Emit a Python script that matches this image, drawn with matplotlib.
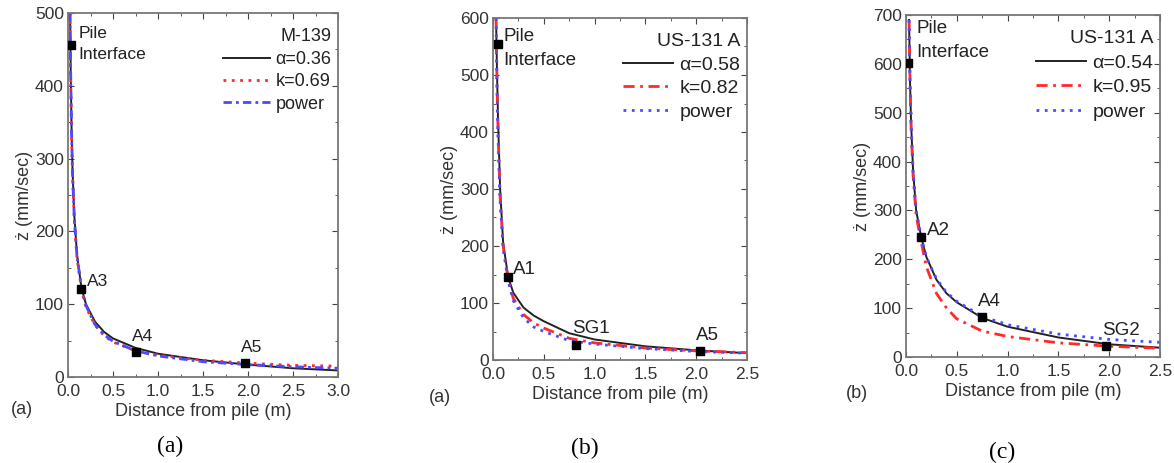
import matplotlib.pyplot as plt
from matplotlib.lines import Line2D
from matplotlib.ticker import MultipleLocator

plt.rcParams["font.family"] = ["Liberation Sans", "DejaVu Sans"]

# panel (a): M-139
dist_a = [0.023, 0.03, 0.04, 0.05, 0.07, 0.10, 0.15, 0.20, 0.30, 0.40, 0.50, 0.75, 1.00, 1.50, 2.00, 2.50, 3.00]
alpha_a = [500, 420, 340, 285, 222, 168, 122, 100, 76, 62, 53, 40, 32, 23, 17, 12, 9]
k_a = [500, 410, 330, 278, 215, 163, 120, 96, 71, 57, 48, 36, 30, 23, 19, 16, 15]
power_a = [500, 415, 333, 281, 218, 166, 122, 98, 72, 58, 49, 36, 29, 21, 17, 14, 12]
pts_a_x = [0.033, 0.144, 0.756, 1.97]
pts_a_y = [456, 121, 34, 19]
pts_a_lbl = ["", "A3", "A4", "A5"]

# panel (b): US-131 A
dist_b = [0.03, 0.04, 0.05, 0.07, 0.10, 0.15, 0.20, 0.30, 0.40, 0.50, 0.75, 1.00, 1.50, 2.00, 2.50]
alpha_b = [600, 500, 420, 300, 205, 145, 118, 92, 78, 68, 47, 36, 24, 17, 12]
k_b = [600, 480, 400, 285, 200, 140, 108, 80, 65, 56, 38, 30, 21, 16, 13]
power_b = [600, 470, 390, 280, 195, 138, 104, 74, 58, 50, 34, 28, 20, 15, 12]
pts_b_x = [0.046, 0.145, 0.82, 2.04]
pts_b_y = [554, 146, 27, 15]
pts_b_lbl = ["", "A1", "SG1", "A5"]

# panel (c): US-131 A
dist_c = [0.03, 0.04, 0.05, 0.07, 0.10, 0.15, 0.20, 0.30, 0.40, 0.50, 0.75, 1.00, 1.50, 2.00, 2.50]
alpha_c = [690, 560, 480, 380, 300, 245, 205, 158, 130, 112, 80, 62, 40, 26, 19]
k_c = [690, 560, 470, 370, 290, 235, 185, 130, 100, 78, 53, 42, 29, 22, 18]
power_c = [690, 560, 480, 380, 300, 245, 205, 160, 132, 114, 83, 66, 47, 36, 30]
pts_c_x = [0.023, 0.148, 0.745, 1.97]
pts_c_y = [601, 245, 82, 23]
pts_c_lbl = ["", "A2", "A4", "SG2"]

W, H = 1174, 463
RED = "#ff2a2a"
BLUE = "#4a4aff"


def px_rect(left, top, right, bottom):
    return [left / W, 1 - bottom / H, (right - left) / W, (bottom - top) / H]


def style_axes(ax, xmax, ymax, ystep):
    ax.set_xlim(0, xmax)
    ax.set_ylim(0, ymax)
    ax.xaxis.set_major_locator(MultipleLocator(0.5))
    ax.xaxis.set_minor_locator(MultipleLocator(0.25))
    ax.yaxis.set_major_locator(MultipleLocator(ystep))
    ax.yaxis.set_minor_locator(MultipleLocator(ystep / 2))
    ax.tick_params(which="both", direction="in", top=True, right=True, labelsize=12.5,
                   colors="#444444", labelcolor="#333333")
    ax.tick_params(axis="x", pad=5)
    ax.tick_params(axis="y", pad=3)
    ax.tick_params(which="major", length=4)
    ax.tick_params(which="minor", length=2)
    for s in ax.spines.values():
        s.set_color("#777777")
        s.set_linewidth(1.3)
    ax.set_xlabel("Distance from pile (m)", fontsize=13, color="#333333", labelpad=3)
    ax.set_ylabel("ż (mm/sec)", fontsize=13, color="#333333", labelpad=1)


def draw_panel(ax, dist, alpha, k, power, px, py, lbls, names, k_style, p_style, title,
               fs=13, pile_y=0.96, spacing=0.3):
    ax.plot(dist, alpha, color="#222222", lw=1.4)
    ax.plot(dist, k, color=RED, lw=2, linestyle=k_style)
    ax.plot(dist, power, color=BLUE, lw=2, linestyle=p_style)
    ax.plot(px, py, "s", color="black", markersize=6, zorder=5)
    for x, y, t in zip(px[1:], py[1:], lbls[1:]):
        ax.annotate(t, (x, y), xytext=(-3, 8) if t != lbls[1] else (4, 2),
                    textcoords="offset points", fontsize=fs - 0.5, color="#222222")
    ax.text(0.04, pile_y, "Pile\nInterface", transform=ax.transAxes, fontsize=fs - 0.5,
            va="top", ha="left", color="#222222", linespacing=1.55)
    handles = [
        Line2D([], [], color="#222222", lw=1.4),
        Line2D([], [], color=RED, lw=2, linestyle=k_style),
        Line2D([], [], color=BLUE, lw=2, linestyle=p_style),
    ]
    leg = ax.legend(handles, names, title=title, loc="upper right", frameon=False,
                    fontsize=fs, title_fontsize=fs, handlelength=2.6, handletextpad=0.3,
                    labelspacing=spacing, borderaxespad=0.0, borderpad=0.35, alignment="right",
                    labelcolor="#222222", bbox_to_anchor=(1.0, 0.975))
    leg.get_title().set_color("#222222")


fig = plt.figure(figsize=(W / 100, H / 100), dpi=100)

ax_a = fig.add_axes(px_rect(68, 13, 338, 377))
style_axes(ax_a, 3.0, 500, 100)
draw_panel(ax_a, dist_a, alpha_a, k_a, power_a, pts_a_x, pts_a_y, pts_a_lbl,
           ["α=0.36", "k=0.69", "power"], (0, (1, 2)), (0, (3, 1.5, 1, 1.5)), "M-139",
           fs=13, pile_y=0.965, spacing=0.3)

ax_b = fig.add_axes(px_rect(493, 18, 747, 360))
style_axes(ax_b, 2.5, 600, 100)
draw_panel(ax_b, dist_b, alpha_b, k_b, power_b, pts_b_x, pts_b_y, pts_b_lbl,
           ["α=0.58", "k=0.82", "power"], (0, (4, 2, 1, 2)), (0, (1, 2)), "US-131 A",
           fs=14, pile_y=0.97, spacing=0.3)

ax_c = fig.add_axes(px_rect(906, 15, 1160, 357))
style_axes(ax_c, 2.5, 700, 100)
draw_panel(ax_c, dist_c, alpha_c, k_c, power_c, pts_c_x, pts_c_y, pts_c_lbl,
           ["α=0.54", "k=0.95", "power"], (0, (4, 2, 1, 2)), (0, (1, 2)), "US-131 A",
           fs=14, pile_y=0.985, spacing=0.35)

# small sub-labels inside each source image
for x, y, t in [(22, 409, "(a)"), (440, 397, "(a)"), (857, 393, "(b)")]:
    fig.text(x / W, 1 - y / H, t, fontsize=13, ha="center", va="center", color="#333333")

# captions under the panels
for x, y, t in [(170, 446, "(a)"), (585, 448, "(b)"), (1002, 452, "(c)")]:
    fig.text(x / W, 1 - y / H, t, fontsize=17, ha="center", va="center",
             family=["Liberation Serif", "DejaVu Serif"])

fig.savefig("out.png", dpi=100)
